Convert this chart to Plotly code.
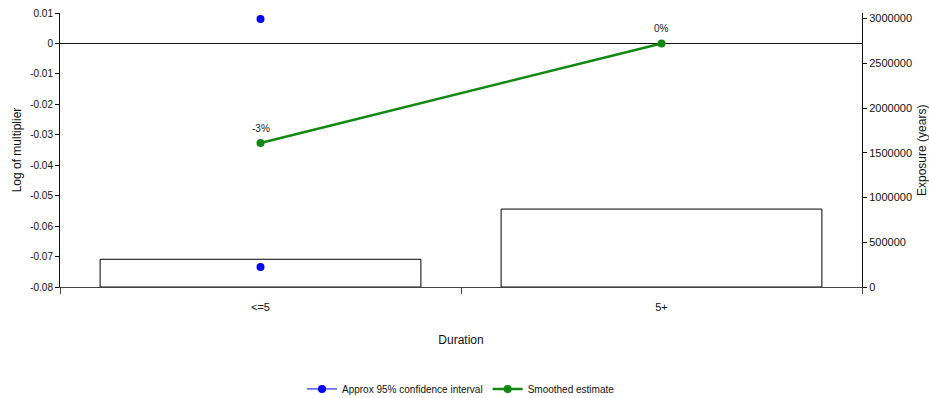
import plotly.graph_objects as go

categories = ["<=5", "5+"]
exposure = [310000, 871000]
ci_upper = [0.0080, None]
ci_lower = [-0.0734, None]
smoothed = [-0.0327, 0.0]
smoothed_labels = ["-3%", "0%"]

left_ticks = [0.01, 0, -0.01, -0.02, -0.03, -0.04, -0.05, -0.06, -0.07, -0.08]
left_ticktext = ["0.01", "0", "-0.01", "-0.02", "-0.03", "-0.04", "-0.05", "-0.06", "-0.07", "-0.08"]
right_ticks = [0, 500000, 1000000, 1500000, 2000000, 2500000, 3000000]

FONT = "Liberation Sans, Arial, sans-serif"

fig = go.Figure()

fig.add_trace(go.Bar(
    x=categories, y=exposure, yaxis="y",
    marker=dict(color="white", line=dict(color="black", width=1)),
    showlegend=False, hoverinfo="skip",
))

fig.add_trace(go.Scatter(
    x=categories, y=ci_upper, yaxis="y2", mode="lines+markers",
    name="Approx 95% confidence interval",
    line=dict(color="#0000FF", width=1), marker=dict(color="#0000FF", size=8),
))
fig.add_trace(go.Scatter(
    x=categories, y=ci_lower, yaxis="y2", mode="lines+markers",
    name="Approx 95% confidence interval", showlegend=False,
    line=dict(color="#0000FF", width=1), marker=dict(color="#0000FF", size=8),
))
fig.add_trace(go.Scatter(
    x=categories, y=smoothed, yaxis="y2", mode="lines+markers",
    name="Smoothed estimate",
    line=dict(color="#118811", width=2.5), marker=dict(color="#118811", size=8),
))

annotations = [dict(
    text="Exposure (years)", xref="paper", yref="paper",
    x=1.0748, y=0.5, xanchor="center", yanchor="middle",
    textangle=-90, showarrow=False, font=dict(size=12, color="#111111"),
)]
for cat, val, lab in zip(categories, smoothed, smoothed_labels):
    annotations.append(dict(
        text=lab, x=cat, y=val, xref="x", yref="y2",
        xanchor="center", yanchor="middle", yshift=14.5,
        showarrow=False, font=dict(size=10, color="#222222"),
    ))

fig.update_layout(
    width=929, height=398,
    margin=dict(l=60, r=67, t=13, b=111, autoexpand=False),
    paper_bgcolor="white", plot_bgcolor="white",
    font=dict(family=FONT, size=11, color="#111111"),
    bargap=0.2,
    xaxis=dict(
        type="category", range=[-0.5, 1.5],
        showline=True, linecolor="#444444", linewidth=1,
        ticks="outside", tickson="boundaries", ticklen=6, tickcolor="#444444",
        showgrid=False, zeroline=False,
        ticklabelstandoff=10,
        title=dict(text="Duration", font=dict(size=12), standoff=23),
        tickfont=dict(size=11),
    ),
    yaxis=dict(
        side="right", range=[0, 3063000],
        tickvals=right_ticks, tickformat="d",
        showline=True, linecolor="#111111", linewidth=1,
        ticks="outside", ticklen=4, tickcolor="#111111",
        showgrid=False, zeroline=False,
        tickfont=dict(size=11), ticklabeloverflow="allow",
    ),
    yaxis2=dict(
        side="left", overlaying="y", range=[-0.08, 0.0100001],
        tickvals=left_ticks, ticktext=left_ticktext,
        showline=True, linecolor="#111111", linewidth=1,
        ticks="outside", ticklen=4, tickcolor="#111111",
        showgrid=False, zeroline=True, zerolinecolor="#111111", zerolinewidth=1,
        title=dict(text="Log of multiplier", font=dict(size=12), standoff=6),
        tickfont=dict(size=10), ticklabeloverflow="allow",
    ),
    legend=dict(
        orientation="h", x=0.5, xanchor="center", y=-0.372, yanchor="middle",
        font=dict(size=10), bgcolor="rgba(0,0,0,0)", itemwidth=30,
    ),
    annotations=annotations,
)

fig.write_html(
    "out.html",
    config={"displayModeBar": False},
    post_script="document.body.style.margin='0';document.body.style.overflow='hidden';",
)
